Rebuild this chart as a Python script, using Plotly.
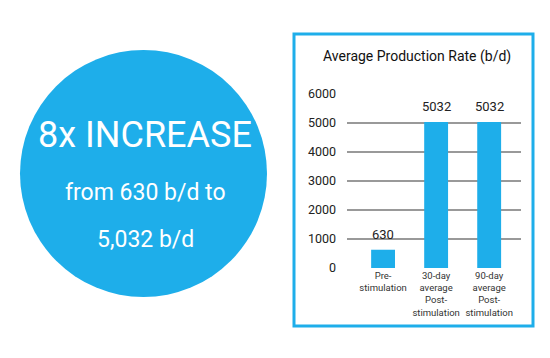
import plotly.graph_objects as go

W, H = 550, 358
categories = ["Pre-<br>stimulation", "30-day<br>average<br>Post-<br>stimulation", "90-day<br>average<br>Post-<br>stimulation"]
x_pos = [0, 1, 2]
values = [630, 5032, 5032]
value_labels = ["630", "5032", "5032"]
y_ticks = [0, 1000, 2000, 3000, 4000, 5000, 6000]

BLUE = "#1EAEEA"
FONT = "Roboto, Lato, sans-serif"

def px(x):
    return x / W

def py(y):
    return 1 - y / H

fig = go.Figure()
fig.add_trace(go.Bar(
    x=x_pos, y=values, width=0.45, marker=dict(color=BLUE, line=dict(width=0)),
    hoverinfo="skip",
))

value_annotations = [
    dict(text=t, x=xv, y=v, xref="x", yref="y", xanchor="center", yanchor="bottom",
         yshift=6, showarrow=False, font=dict(family=FONT, size=13, color="#222222"))
    for xv, v, t in zip(x_pos, values, value_labels)
]

fig.update_layout(
    width=W, height=H, autosize=False, margin=dict(l=0, r=0, t=0, b=0, pad=0),
    paper_bgcolor="white", plot_bgcolor="white", showlegend=False,
    xaxis=dict(domain=[px(347), px(521)], range=[-0.68, 2.6], automargin=False,
               tickvals=x_pos, ticktext=categories,
               tickfont=dict(family=FONT, size=9.5, color="#333333"),
               showgrid=False, zeroline=False, showline=False, ticks=""),
    yaxis=dict(domain=[py(268), py(94)], range=[0, 6000], automargin=False,
               tickvals=y_ticks, ticktext=[str(v) for v in y_ticks],
               tickfont=dict(family=FONT, size=12.5, color="#222222"),
               showgrid=True, gridcolor="#999999", gridwidth=1.5,
               zeroline=False, showline=False, ticks="", ticklabelstandoff=10),
    shapes=[
        dict(type="circle", xref="paper", yref="paper",
             x0=px(20), x1=px(267), y0=py(297), y1=py(50),
             fillcolor=BLUE, line=dict(width=0), layer="below"),
        dict(type="rect", xref="paper", yref="paper",
             x0=px(294), x1=px(533), y0=py(326), y1=py(34),
             line=dict(color=BLUE, width=3), fillcolor="rgba(0,0,0,0)"),
    ],
    annotations=value_annotations + [
        dict(text="Average Production Rate (b/d)", xref="paper", yref="paper",
             x=px(417), y=py(57), xanchor="center", yanchor="middle", showarrow=False,
             font=dict(family=FONT, size=14, color="#111111")),
        dict(text="8x INCREASE", xref="paper", yref="paper",
             x=px(145), y=py(135), xanchor="center", yanchor="middle", showarrow=False,
             font=dict(family=FONT, size=36, color="white")),
        dict(text="from 630 b/d to", xref="paper", yref="paper",
             x=px(145), y=py(192), xanchor="center", yanchor="middle", showarrow=False,
             font=dict(family=FONT, size=23, color="white")),
        dict(text="5,032 b/d", xref="paper", yref="paper",
             x=px(145), y=py(240), xanchor="center", yanchor="middle", showarrow=False,
             font=dict(family=FONT, size=23, color="white")),
    ],
)

fig.write_html("out.html", config={"displayModeBar": False},
               post_script="document.body.style.margin='0';")
